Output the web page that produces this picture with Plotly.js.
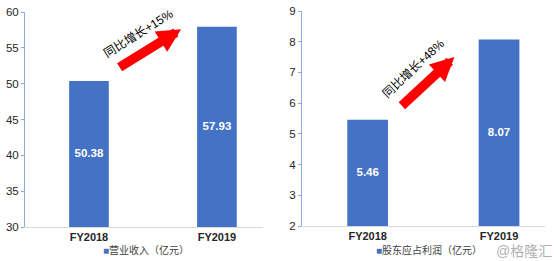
<!DOCTYPE html>
<html><head><meta charset="utf-8">
<script src="https://cdn.plot.ly/plotly-3.0.1.min.js"></script>
<style>html,body{margin:0;padding:0;background:#fff;}#c{width:554px;height:261px;}</style>
</head><body><div id="c"></div>
<script>
const categories = ['FY2018', 'FY2019'];
const revenue = [50.38, 57.93];
const profit = [5.46, 8.07];
const revenueName = '营业收入（亿元）';
const profitName = '股东应占利润（亿元）';
const growthRevenue = '同比增长+15%';
const growthProfit = '同比增长+48%';
const watermark = '@格隆汇';
const revenueAxisMin = 30, revenueAxisMax = 60;
const profitAxisMin = 2, profitAxisMax = 9;

const FONT = 'Liberation Sans, Arial, Noto Sans CJK SC, sans-serif';
const BLUE = '#4472C4';

function barTrace(vals, xa, ya) {
  return {type:'bar', x:categories, y:vals, xaxis:xa, yaxis:ya, width:0.31,
    marker:{color:BLUE}, hoverinfo:'none', showlegend:false};
}
function labelTrace(vals, axisMin, xa, ya) {
  return {type:'scatter', mode:'text', x:categories, y:vals.map(v => (v + axisMin) / 2),
    text:vals.map(v => v.toFixed(2)), textposition:'middle center', xaxis:xa, yaxis:ya,
    textfont:{color:'#ffffff', size:11.5, family:'Liberation Sans, Arial, sans-serif', weight:'bold'},
    hoverinfo:'none', showlegend:false, cliponaxis:false};
}

const traces = [
  barTrace(revenue, 'x', 'y'),
  barTrace(profit, 'x2', 'y2'),
  labelTrace(revenue, revenueAxisMin, 'x', 'y'),
  labelTrace(profit, profitAxisMin, 'x2', 'y2')
];

const xcommon = {type:'category', showgrid:false, zeroline:false, showline:true, linecolor:'#D9D9D9',
  linewidth:1, ticks:'', tickfont:{size:11, color:'#262626', family:'Liberation Sans, Arial, sans-serif', weight:'bold'}, fixedrange:true};
const ycommon = {showgrid:false, zeroline:false, showline:true, linecolor:'#8FAADC', linewidth:1,
  ticks:'outside', ticklen:3, tickcolor:'#8FAADC', tickfont:{size:11.5, color:'#262626', family:FONT}, fixedrange:true};

const layout = {
  width:554, height:261, margin:{l:0, r:0, t:0, b:0}, paper_bgcolor:'#fff', plot_bgcolor:'#fff',
  font:{family:FONT},
  xaxis: Object.assign({}, xcommon, {domain:[25/554, 263/554], range:[-0.5, 1.36], anchor:'y'}),
  yaxis: Object.assign({}, ycommon, {domain:[1-227/261, 1-12/261], range:[revenueAxisMin, revenueAxisMax], dtick:5, anchor:'x'}),
  xaxis2: Object.assign({}, xcommon, {domain:[302/554, 545/554], range:[-0.5, 1.35], anchor:'y2'}),
  yaxis2: Object.assign({}, ycommon, {domain:[1-226/261, 1-11/261], range:[profitAxisMin, profitAxisMax], dtick:1, anchor:'x2'}),
  annotations:[
    {xref:'x', yref:'y', x:0.72, y:57.6, ax:-63, ay:39, axref:'pixel', ayref:'pixel', text:'',
     showarrow:true, arrowcolor:'#FF0000', arrowwidth:9.5, arrowhead:2, arrowsize:0.5, standoff:0},
    {xref:'x2', yref:'y2', x:0.66, y:7.5, ax:-54, ay:50, axref:'pixel', ayref:'pixel', text:'',
     showarrow:true, arrowcolor:'#FF0000', arrowwidth:9.5, arrowhead:2, arrowsize:0.5, standoff:0},
    {xref:'paper', yref:'paper', x:138/554, y:1-34/261, xanchor:'center', yanchor:'middle', text:growthRevenue, showarrow:false,
     textangle:-32, font:{size:12, color:'#000', family:FONT}},
    {xref:'paper', yref:'paper', x:413/554, y:1-69/261, xanchor:'center', yanchor:'middle', text:growthProfit, showarrow:false,
     textangle:-43, font:{size:12, color:'#000', family:FONT}},
    {xref:'paper', yref:'paper', x:101/554, y:1-250/261, xanchor:'left', yanchor:'middle', showarrow:false,
     text:'<span style="color:'+BLUE+'">■</span>'+revenueName, font:{size:10, color:'#404040', family:FONT}},
    {xref:'paper', yref:'paper', x:374/554, y:1-249.5/261, xanchor:'left', yanchor:'middle', showarrow:false,
     text:'<span style="color:'+BLUE+'">■</span>'+profitName, font:{size:10, color:'#404040', family:FONT}},
    {xref:'paper', yref:'paper', x:554/554, y:1-251/261, xanchor:'right', yanchor:'middle', showarrow:false,
     text:watermark, font:{size:14, color:'#B0B0B0', family:FONT}}
  ]
};
Plotly.newPlot('c', traces, layout, {staticPlot:true, displayModeBar:false});
</script></body></html>
